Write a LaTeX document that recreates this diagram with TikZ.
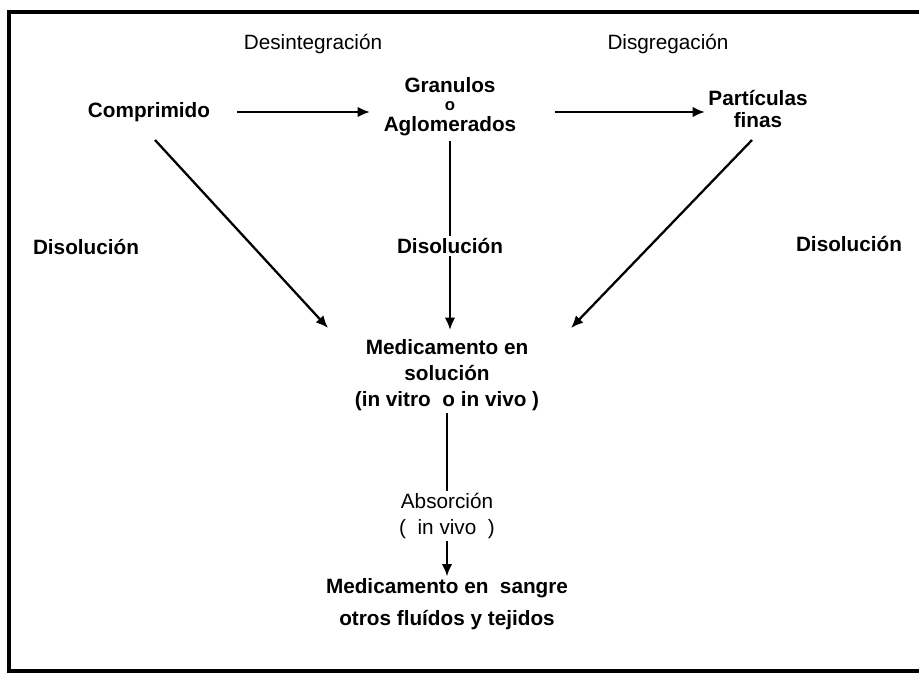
\documentclass[tikz,border=0pt]{standalone}
\usepackage{fontspec}
\setmainfont{Liberation Sans}
\usetikzlibrary{arrows.meta,positioning}
\tikzset{flow arrow/.style={-{Latex[length=7pt,width=6pt]},line width=1.3pt}}

\begin{document}
\begin{tikzpicture}[x=0.02cm,y=-0.02cm,
                    main node/.style={font=\bfseries\fontsize{11.8}{15}\selectfont,align=center,inner sep=1pt},
                    step label/.style={font=\fontsize{11.8}{15}\selectfont,align=center,inner sep=1pt}]
\useasboundingbox (0,0) rectangle (919,674);
% frame, open at the right
\draw[line width=2.2pt] (925,12) -- (9,12) -- (9,671) -- (925,671);

\node[main node] (Comprimido) at (149,112) {Comprimido};
\node[main node,inner sep=0pt] (Granulos) at (450,85) {Granulos};
\node[main node,inner sep=0pt,font=\bfseries\fontsize{9.5}{11}\selectfont] (GranO) at (450,106) {o};
\node[main node,inner sep=0pt] (Aglomerados) at (450,126) {Aglomerados};
\node[main node] (Particulas) at (758,109) {Partículas\\[-3pt]finas};

\node[step label] (DesLabel) at (313,44) {Desintegración};
\node[step label] (DisgLabel) at (668,44) {Disgregación};

\node[step label] (DisLeft) at (86,247) {\bfseries Disolución};
\node[step label] (DisMid) at (450,246) {\bfseries Disolución};
\node[step label] (DisRight) at (849,244) {\bfseries Disolución};

\node[main node] (Solucion) at (447,375) {Medicamento en\\solución\\(in vitro\ \ o in vivo )};
\node[step label] (Absorcion) at (447,516) {Absorción\\(\ \ in vivo\ \ )};
\node[main node] (Sangre) at (447,604) {Medicamento en\ \ sangre\\[3pt]otros\ fluídos y tejidos};

\coordinate (LeftStart) at (155,140);
\coordinate (LeftEnd) at (328,328);
\coordinate (MidEnd) at (450,330);
\coordinate (RightStart) at (752,140);
\coordinate (RightEnd) at (571,328);
\coordinate (ArrowOneStart) at (237,112);
\coordinate (ArrowOneEnd) at (370,112);
\coordinate (ArrowTwoStart) at (555,112);
\coordinate (ArrowTwoEnd) at (705,112);

\draw[flow arrow] (ArrowOneStart) -- (ArrowOneEnd);
\draw[flow arrow] (ArrowTwoStart) -- (ArrowTwoEnd);

\draw[flow arrow] (LeftStart) -- (LeftEnd);
\draw[line width=1.3pt] ([yshift=-3pt]Aglomerados.south) -- (DisMid.north);
\draw[flow arrow] (DisMid.south) -- (MidEnd);
\draw[flow arrow] (RightStart) -- (RightEnd);

\draw[line width=1.3pt] (Solucion.south) -- (Absorcion.north);
\draw[flow arrow] (Absorcion.south) -- (Sangre.north);
\end{tikzpicture}
\end{document}
